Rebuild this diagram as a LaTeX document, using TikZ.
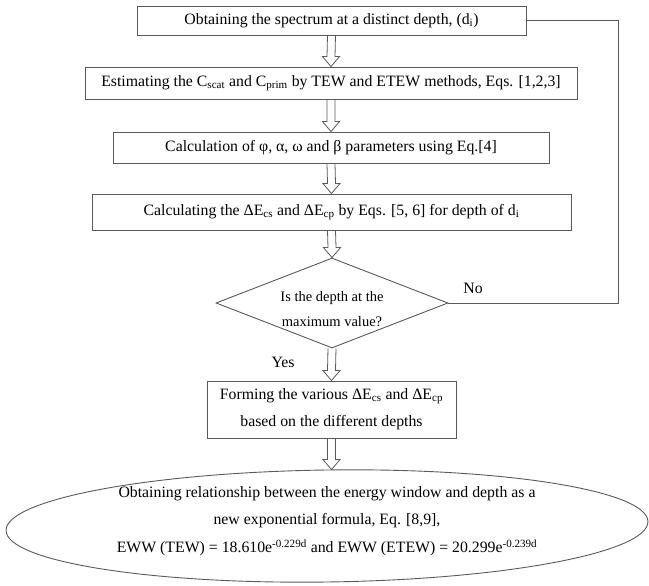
\documentclass[tikz,border=0pt]{standalone}
\usepackage{fontspec}
\setmainfont{Liberation Serif}
\usetikzlibrary{calc,shapes.geometric}
\definecolor{linegray}{RGB}{90,90,90}

\begin{document}
\begin{tikzpicture}[x=1pt,y=-1pt,
  boxnode/.style={draw=linegray,line width=.9pt,inner sep=0pt,align=center,
    font=\fontsize{15.8}{27}\selectfont},
  decision/.style={diamond,draw=linegray,line width=.9pt,inner sep=0pt},
  lbl/.style={font=\fontsize{15.8}{18}\selectfont},
  hollow/.style={draw=linegray,line width=.8pt,line join=miter,
    to path={($(\tikztostart)+(-4,0)$) -- ($(\tikztotarget)+(-4,-10)$)
      -- ($(\tikztotarget)+(-8.5,-10)$) -- (\tikztotarget)
      -- ($(\tikztotarget)+(8.5,-10)$) -- ($(\tikztotarget)+(4,-10)$)
      -- ($(\tikztostart)+(4,0)$)}}]
\useasboundingbox (0,0) rectangle (649,586);
% process boxes
\node[boxnode,minimum width=389,minimum height=29] (spec) at (331.5,20.5)
  {Obtaining the spectrum at a distinct depth, (d\textsubscript{i})};
\node[boxnode,minimum width=492,minimum height=32] (estim) at (331,83)
  {Estimating the C\textsubscript{scat} and C\textsubscript{prim} by TEW and ETEW methods, Eqs. [1,2,3]};
\node[boxnode,minimum width=436,minimum height=31] (param) at (331,147.5)
  {Calculation of φ, α, ω and β parameters using Eq.[4]};
\node[boxnode,minimum width=479,minimum height=36] (delta) at (331.5,212)
  {Calculating the ΔE\textsubscript{cs} and ΔE\textsubscript{cp} by Eqs. [5, 6] for depth of d\textsubscript{i}};
\node[decision,minimum width=232,minimum height=90] (check) at (332,303) {};
\node[align=center,font=\fontsize{14.5}{25}\selectfont] (checktext) at (332,309)
  {Is the depth at the\\maximum value?};
\node[boxnode,minimum width=249,minimum height=57] (form) at (331.5,409.5)
  {Forming the various ΔE\textsubscript{cs} and ΔE\textsubscript{cp}\\based on the different depths};
\node[ellipse,draw=linegray,line width=.9pt,inner sep=0pt,rotate=0.8,
  minimum width=642,minimum height=112] (final) at (327,526) {};
\node[boxnode,draw=none,font=\fontsize{15.8}{27.5}\selectfont] (finaltext) at (327,521)
  {Obtaining relationship between the energy window and depth as a\\
   new exponential formula, Eq. [8,9],\\
   EWW (TEW) = 18.610e\textsuperscript{-0.229d} and EWW (ETEW) = 20.299e\textsuperscript{-0.239d}};
\node[lbl] (no) at (473,288) {No};
\node[lbl] (yes) at (283,362) {Yes};
% block arrows
\draw[hollow] (spec.south) to (estim.north);
\draw[hollow] (estim.south) to (param.north);
\draw[hollow] (param.south) to (delta.north);
\draw[hollow] (delta.south) to (check.north);
\draw[hollow] (check.south) to (form.north);
\draw[hollow] (form.south) to (form.south |- final.north);
% loop back
\coordinate (back) at (618,0);
\draw[linegray,line width=.9pt] (check.east) -- (check.east -| back) |- (spec.east);
\end{tikzpicture}
\end{document}
